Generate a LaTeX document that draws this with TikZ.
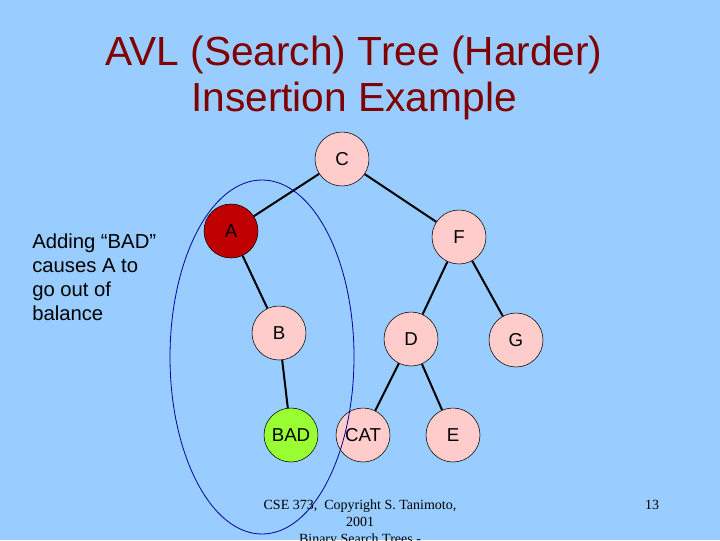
\documentclass[tikz,border=0pt]{standalone}
\usepackage{fontspec}
\setmainfont{Liberation Sans}
\newfontfamily\serif{Liberation Serif}
\definecolor{bg}{RGB}{153,204,255}
\definecolor{ttl}{RGB}{128,0,0}
\definecolor{pnk}{RGB}{255,204,204}
\definecolor{rd}{RGB}{192,0,0}
\definecolor{grn}{RGB}{153,255,51}
\begin{document}
\begin{tikzpicture}[x=0.75pt,y=-0.75pt,
  tn/.style={circle,draw=black,fill=pnk,minimum size=40.5pt,inner sep=0pt,font=\fontsize{14pt}{16pt}\selectfont},
  ln/.style={black,line width=1.5pt}]
\path[use as bounding box,fill=bg] (0,0) rectangle (720,540);
\begin{scope}
\clip (0,0) rectangle (720,540);
\node[ttl,font=\fontsize{30.5pt}{34pt}\selectfont,align=center] (title) at (354,78) {AVL (Search) Tree (Harder)\\Insertion Example};
\node[tn] (C) at (342,159) {C};
\node[tn,fill=rd] (A) at (231,231) {A};
\node[tn] (F) at (459,237) {F};
\node[tn] (B) at (279,333) {B};
\node[tn] (D) at (411,339) {D};
\node[tn] (G) at (516,340) {G};
\node[tn,fill=grn] (BAD) at (291,435) {BAD};
\node[tn] (CAT) at (363,435) {CAT};
\node[tn] (E) at (453,435) {E};
\draw[ln] (C) -- (A); \draw[ln] (C) -- (F);
\draw[ln] (A) -- (B); \draw[ln] (F) -- (D); \draw[ln] (F) -- (G);
\draw[ln] (B) -- (BAD); \draw[ln] (D) -- (CAT); \draw[ln] (D) -- (E);
\draw[blue!60!black,line width=0.6pt] (262,357) ellipse [x radius=92,y radius=177];
\node[anchor=north west,align=left,inner sep=0pt,font=\fontsize{15.2pt}{18pt}\selectfont] (note) at (32,234) {Adding “BAD”\\causes A to\\go out of\\balance};
\node[font=\serif\fontsize{10.5pt}{12.8pt}\selectfont,align=center,anchor=north] (foot) at (360,495) {CSE 373,\ \ Copyright S. Tanimoto,\\2001\\Binary Search Trees -};
\node[font=\serif\fontsize{10.5pt}{12.8pt}\selectfont] (pg) at (652,505) {13};
\end{scope}
\end{tikzpicture}
\end{document}
